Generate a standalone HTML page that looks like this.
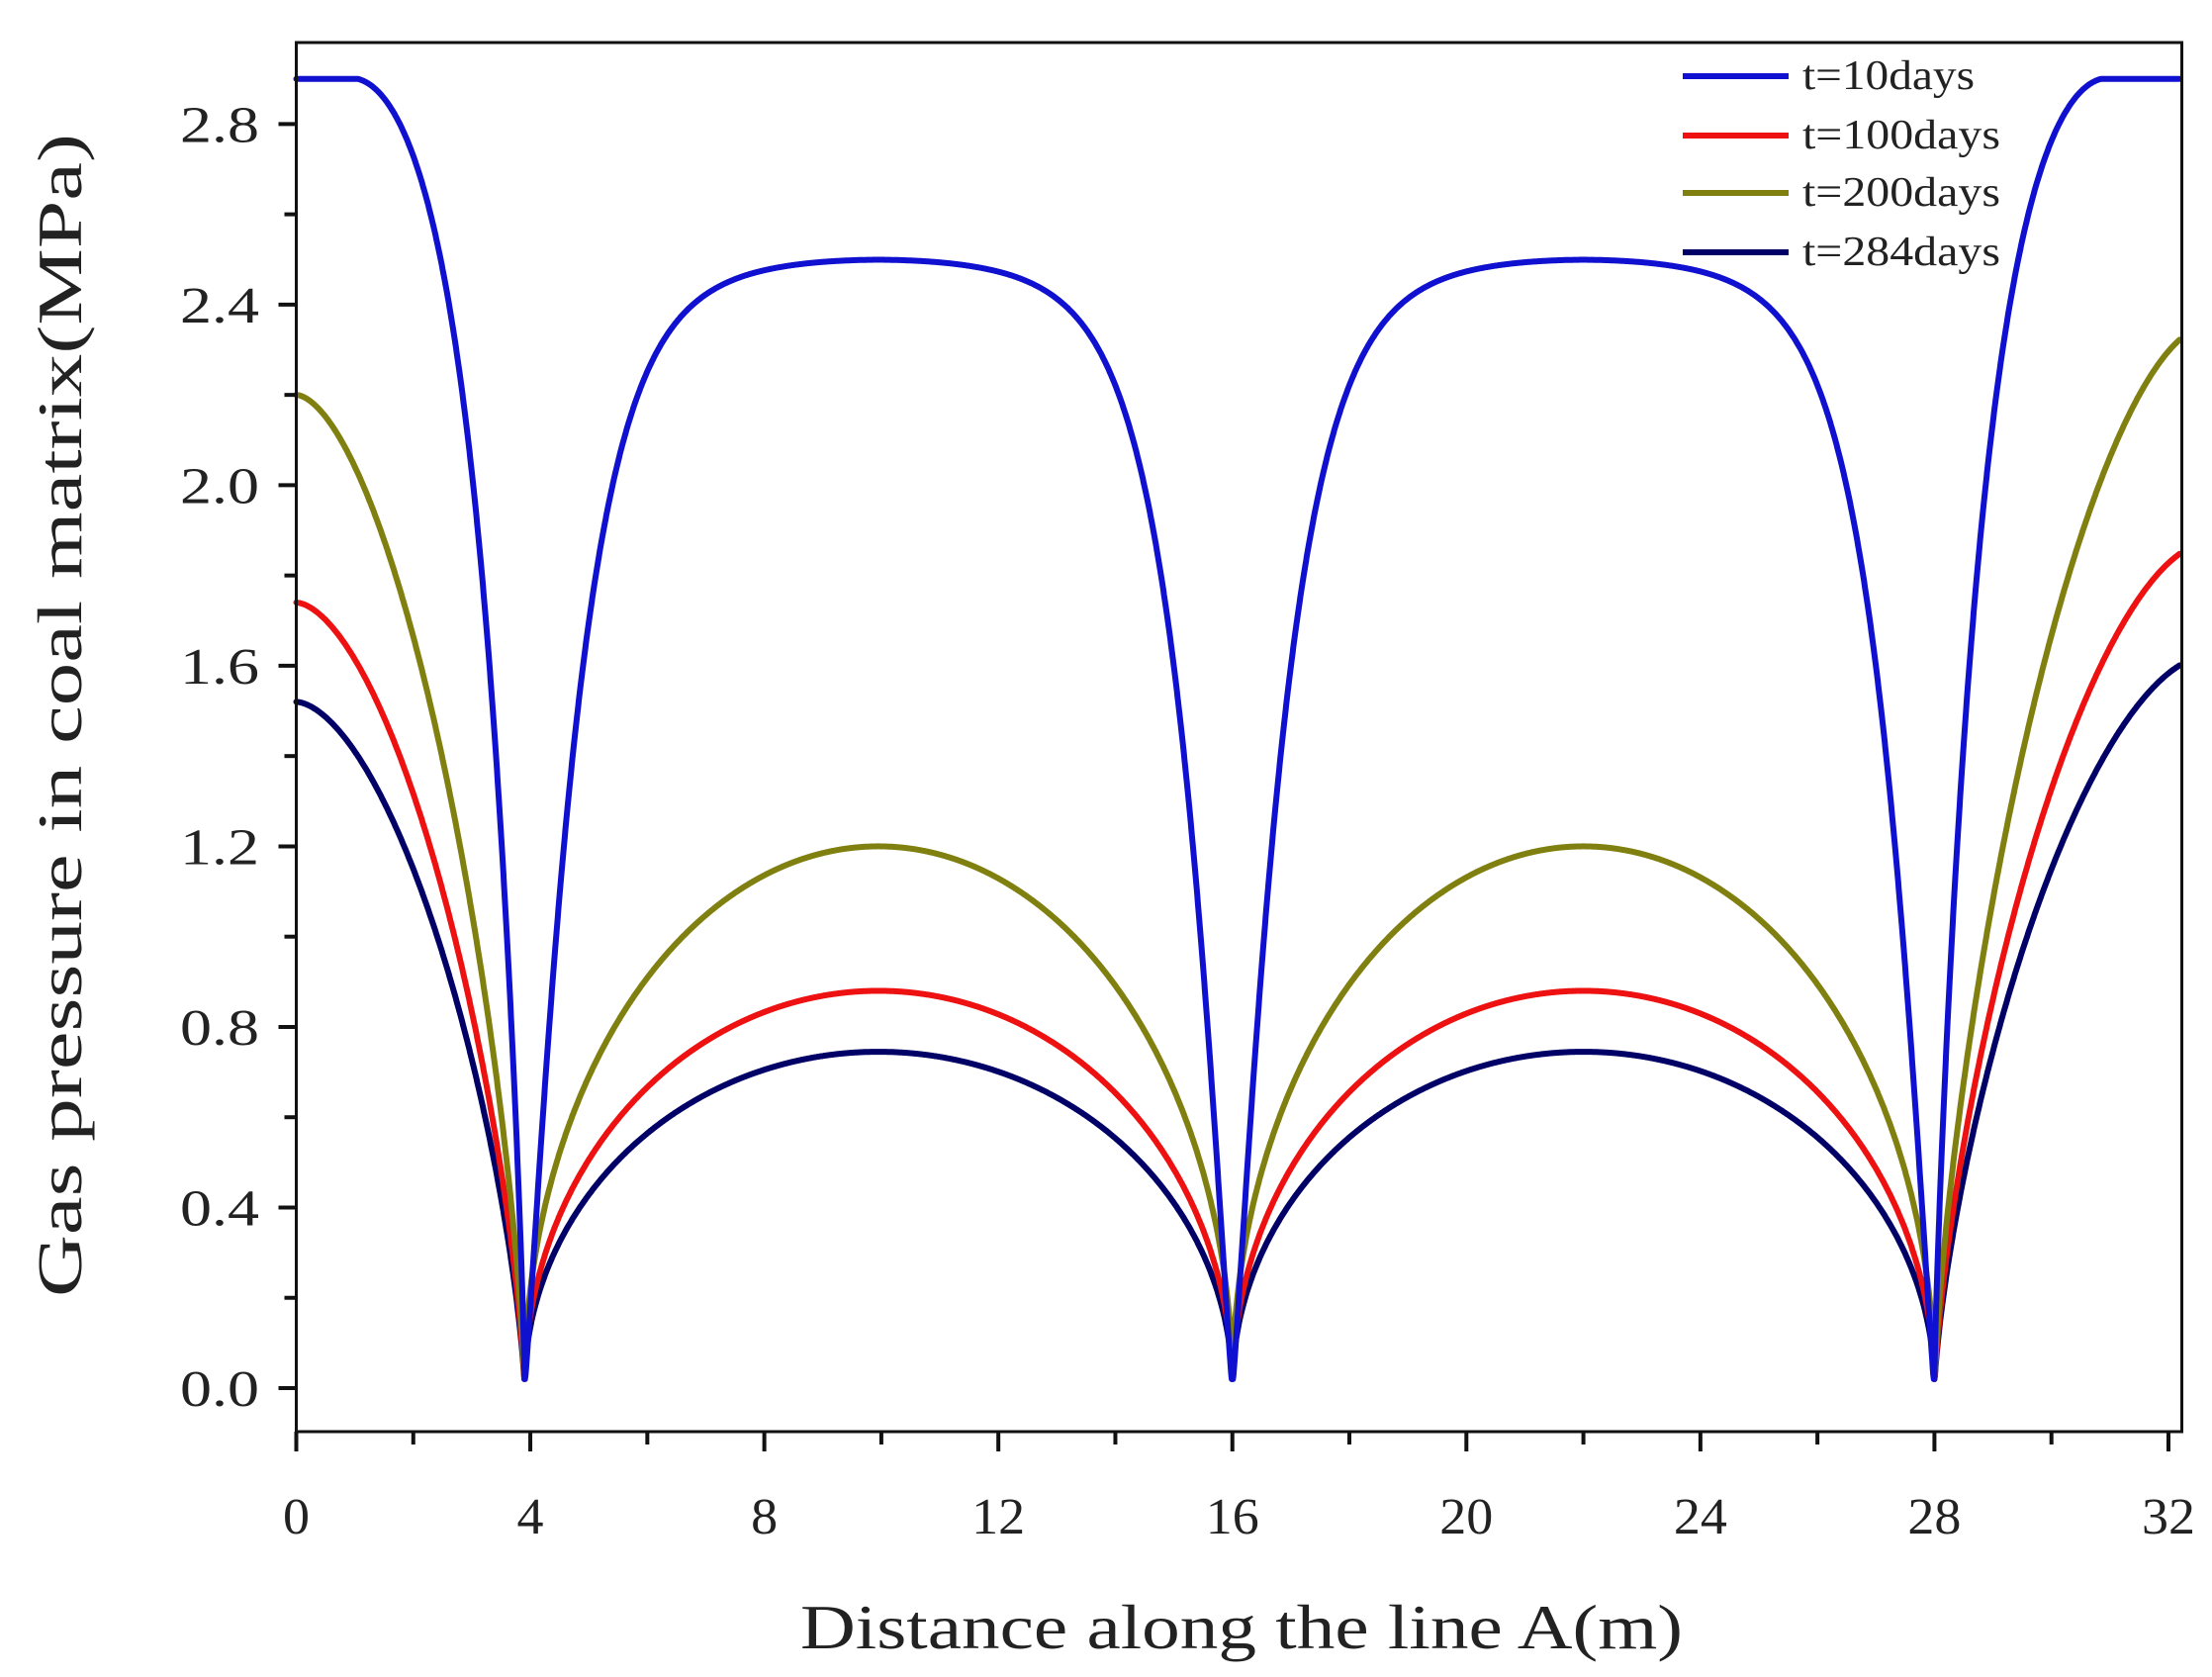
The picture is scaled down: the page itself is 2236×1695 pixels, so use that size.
<!DOCTYPE html>
<html><head><meta charset="utf-8"><style>html,body{margin:0;padding:0;background:#fff}svg{display:block}</style></head>
<body>
<svg id="s" width="2236" height="1695" viewBox="0 0 2236 1695" xmlns="http://www.w3.org/2000/svg" style="font-family:'Liberation Serif',serif">
<rect width="2236" height="1695" fill="#fff"/>
<g id="curves" fill="none" stroke-width="6" stroke-linejoin="round" stroke-linecap="round"></g>
<rect x="299.5" y="43" width="1906" height="1404" fill="none" stroke="#111" stroke-width="3"/>
<g id="ticks" stroke="#111" stroke-width="4"></g>
<g id="labels" font-size="52" fill="#222"></g>
<text x="1255" y="1666" font-size="64" text-anchor="middle" textLength="892" lengthAdjust="spacingAndGlyphs" fill="#222">Distance along the  line A(m)</text>
<text transform="translate(82,723) rotate(-90)" font-size="64" text-anchor="middle" textLength="1176" lengthAdjust="spacingAndGlyphs" fill="#222">Gas pressure in coal matrix(MPa)</text>
<g font-size="42" fill="#222">
<line x1="1701" y1="77" x2="1808" y2="77" stroke="#1010d0" stroke-width="6"/>
<text x="1822" y="90" textLength="174" lengthAdjust="spacingAndGlyphs">t=10days</text>
<line x1="1701" y1="137" x2="1808" y2="137" stroke="#ee1111" stroke-width="6"/>
<text x="1822" y="150" textLength="200" lengthAdjust="spacingAndGlyphs">t=100days</text>
<line x1="1701" y1="195" x2="1808" y2="195" stroke="#808010" stroke-width="6"/>
<text x="1822" y="208" textLength="200" lengthAdjust="spacingAndGlyphs">t=200days</text>
<line x1="1701" y1="255" x2="1808" y2="255" stroke="#000066" stroke-width="6"/>
<text x="1822" y="268" textLength="200" lengthAdjust="spacingAndGlyphs">t=284days</text>
</g>
</svg>
<script>
(function(){
var NS="http://www.w3.org/2000/svg";
var X0=299.5,XS=59.14,Y0=1403,YS=456.3;
function px(x){return X0+x*XS}function py(y){return Y0-y*YS}
var t=document.getElementById('ticks'),L=document.getElementById('labels');
function ln(x1,y1,x2,y2){var e=document.createElementNS(NS,'line');e.setAttribute('x1',x1);e.setAttribute('y1',y1);e.setAttribute('x2',x2);e.setAttribute('y2',y2);t.appendChild(e);}
function tx(x,y,s,a,len){var e=document.createElementNS(NS,'text');e.setAttribute('x',x);e.setAttribute('y',y);e.setAttribute('text-anchor',a);e.textContent=s;if(len){e.setAttribute('textLength',len);e.setAttribute('lengthAdjust','spacingAndGlyphs');}L.appendChild(e);}
for(var i=0;i<=15;i++){var v=i*0.2;var y=py(v);if(y<45)break;var maj=(i%2==0);ln(299.5,y,299.5-(maj?18:12),y);if(maj)tx(262,y+18,v.toFixed(1),'end',80);}
for(var k=0;k<=16;k++){var x=px(k*2);var maj=(k%2==0);ln(x,1447,x,1447+(maj?20:13));if(maj)tx(x,1550,String(k*2),'middle',(k*2)>=10?54:27);}
var W=[3.9,16,28];
function mid(x,A,blue){var a=W[0],b=W[1];if(x>W[1]){a=W[1];b=W[2];}var D=(b-a)/2,c=(a+b)/2,u=Math.abs(x-c)/D;if(u>1)u=1;
 if(blue){var d=D*(1-u);var g=1-Math.exp(-Math.pow(d/0.93,1.14));return Math.max(0.02,A*g*(1-0.05*u*u));}
 return Math.max(0.02,A*Math.pow(1-u*u,0.5));}
function edge(d,W0,P0){var u=d/W0;if(u>1)u=1;return Math.max(0.02,P0*Math.pow(1-Math.pow(u,1.7),0.72));}
var DB=2.85;
function gB(d){return 1-Math.exp(-Math.pow(d/0.75,1.1));}
var gBD=gB(DB);
function blueEdge(d){if(d>=DB)return 2.9;var v=(DB-d)/DB;var g=gB(d)/gBD;var h=Math.pow(1-v*v,0.6);return Math.max(0.02,2.9*(0.5*g+0.5*h));}
function f(x,s){
 if(x<=W[0]){var d=W[0]-x;if(s==0)return blueEdge(d);return edge(x,W[0],s.L);}
 if(x>=W[2]){var d=x-W[2];if(s==0)return blueEdge(d);return edge(4.6-d,4.6,s.R);}
 return s==0?mid(x,2.5,true):mid(x,s.M,false);}
var S=[[0,'#1010d0'],[{L:2.2,R:2.35,M:1.2},'#808010'],[{L:1.74,R:1.87,M:0.88},'#ee1111'],[{L:1.52,R:1.62,M:0.745},'#000066']];
var g=document.getElementById('curves');
[3,2,1,0].forEach(function(i){var s=S[i][0],pts=[];
 for(var x=0;x<=32.2;x+=0.01){pts.push(px(x).toFixed(1)+','+py(f(x,s)).toFixed(1));}
 var e=document.createElementNS(NS,'polyline');e.setAttribute('points',pts.join(' '));e.setAttribute('stroke',S[i][1]);g.appendChild(e);});
})();
</script>
</body></html>
